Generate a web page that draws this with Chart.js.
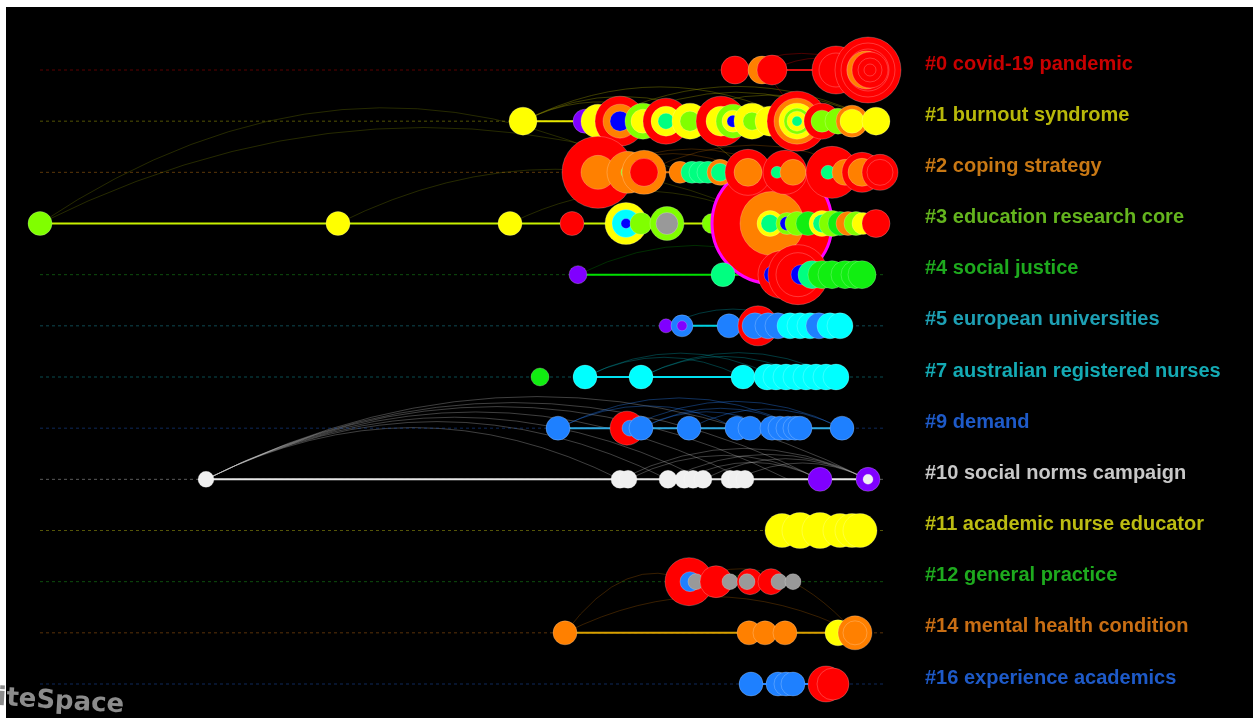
<!DOCTYPE html>
<html><head><meta charset="utf-8">
<script src="https://cdn.jsdelivr.net/npm/chart.js@4.4.0/dist/chart.umd.min.js"></script>
<style>html,body{margin:0;padding:0;background:#fff;overflow:hidden}</style>
</head><body>
<canvas id="c" width="1253" height="718"></canvas>
<script>
// ---------------- data ----------------
const clusterLabels = ['#0 covid-19 pandemic','#1 burnout syndrome','#2 coping strategy','#3 education research core','#4 social justice','#5 european universities','#7 australian registered nurses','#9 demand','#10 social norms campaign','#11 academic nurse educator','#12 general practice','#14 mental health condition','#16 experience academics'];
const labelColors = ['#c80000','#b8b80a','#c87814','#64b41e','#1eaa1e','#1ea0b4','#14aab4','#1e5ac8','#c8c8c8','#bcbc12','#1eaa1e','#c86e14','#1e5ac8'];
const lineColors  = ['#e01010','#e8e800','#e07000','#c8f000','#00e000','#00d0e0','#00e0f0','#30a8e0','#e6e6e6','#e8e800','#d02020','#d8a000','#1e80ff'];
const ringPalette = {R:'#ff0000',O:'#ff8000',Y:'#ffff00',L:'#80ff00',G:'#11ee11',S:'#00ff80',C:'#00ffff',B:'#1e80ff',N:'#0000ff',P:'#8000ff',W:'#f0f0f0',A:'#999999'};
const timeFrom = 1982.0, timeTo = 2024.15;

// nodes: [year, rings "ColourRadius ..."]
const nodes0 = [[2016.75,'R14'],[2018.1,'O14'],[2018.6,'R15'],[2021.8,'R24 R17'],[2023.4,'R33 R27 R21'],[2023.3,'O19'],[2023.5,'R18 R12 R6']];
const nodes1 = [[2006.15,'Y14'],[2009.25,'P12'],[2009.9,'Y17'],[2011.0,'R25 O17 N10'],[2012.15,'L18 Y12'],[2013.3,'R23 Y15 S8'],[2014.5,'Y18 L10'],[2016.05,'R25 Y15'],[2016.65,'L17 Y11 N6'],[2017.6,'Y18 L9'],[2018.5,'Y15'],[2019.85,'R30 O23 Y18 L13 Y10 S5'],[2021.1,'R18 L11'],[2021.9,'L13'],[2022.6,'O16 Y12'],[2023.8,'Y14']];
const nodes2 = [[2009.9,'R36 O17'],[2011.4,'O21 L7'],[2012.2,'O22 R14'],[2014.0,'O11'],[2014.6,'S11'],[2015.0,'S11'],[2015.4,'S11'],[2016.0,'O13 S9'],[2017.4,'R23 O14'],[2019.25,'R22'],[2018.85,'S6'],[2019.65,'O13'],[2021.6,'R26'],[2021.4,'S7'],[2022.25,'O13'],[2023.1,'R20 O14'],[2024.0,'R18 R13']];
const nodes3 = [[1982.0,'L12'],[1996.9,'Y12'],[2005.5,'Y12'],[2008.6,'R12'],[2011.3,'Y21 C14 N5'],[2012.05,'L11'],[2013.35,'L17 A11'],[2015.6,'L10'],[2018.6,'R60 O32'],[2018.5,'Y13 S9'],[2019.35,'L11 N7'],[2019.85,'L12'],[2020.4,'G12'],[2021.1,'Y13 S9'],[2021.6,'L13'],[2022.0,'G12'],[2022.4,'O12'],[2022.8,'L12'],[2023.15,'Y11'],[2023.8,'R14']];
const nodes4 = [[2008.9,'P9'],[2016.15,'S12'],[2019.1,'R24'],[2018.65,'N9'],[2019.9,'R30 R22'],[2020.05,'N10'],[2020.6,'S14'],[2021.1,'G14'],[2021.6,'G14'],[2022.4,'R13'],[2022.25,'G14'],[2022.75,'G14'],[2023.1,'G14']];
const nodes5 = [[2013.3,'P7'],[2014.1,'B11 P5'],[2016.45,'B12'],[2017.9,'R20'],[2017.75,'B13'],[2018.4,'B13'],[2018.9,'B13'],[2019.5,'C13'],[2020.0,'C13'],[2020.5,'C13'],[2020.95,'B13'],[2021.5,'C13'],[2022.0,'C13']];
const nodes7 = [[2007.0,'G9'],[2009.25,'C12'],[2012.05,'C12'],[2017.15,'C12'],[2018.35,'C13'],[2018.8,'C13'],[2019.3,'C13'],[2019.8,'C13'],[2020.3,'C13'],[2020.8,'C13'],[2021.3,'C13'],[2021.8,'C13']];
const nodes9 = [[2007.9,'B12'],[2011.35,'R17'],[2011.5,'B8'],[2012.05,'B12'],[2014.45,'B12'],[2016.85,'B12'],[2017.5,'B12'],[2018.6,'B12'],[2019.0,'B12'],[2019.4,'B12'],[2019.75,'B12'],[2020.0,'B12'],[2022.1,'B12']];
const nodes10 = [[1990.3,'W8'],[2011.0,'W9'],[2011.4,'W9'],[2013.4,'W9'],[2014.2,'W9'],[2014.65,'W9'],[2015.15,'W9'],[2016.5,'W9'],[2016.85,'W9'],[2017.25,'W9'],[2021.0,'P12'],[2023.4,'P12 W5']];
const nodes11 = [[2019.1,'Y17'],[2020.0,'Y18'],[2021.0,'Y18'],[2022.0,'Y17'],[2022.6,'Y17'],[2023.0,'Y17']];
const nodes12 = [[2014.45,'R24'],[2014.5,'B10'],[2014.8,'A8'],[2015.8,'R16'],[2016.5,'A8'],[2017.5,'R13'],[2017.35,'A8'],[2018.55,'R13'],[2018.95,'A8'],[2019.65,'A8']];
const nodes14 = [[2008.25,'O12'],[2017.45,'O12'],[2018.25,'O12'],[2019.25,'O12'],[2021.9,'Y13'],[2022.75,'O17 O12']];
const nodes16 = [[2017.55,'B12'],[2018.9,'B12'],[2019.3,'B12'],[2019.65,'B12'],[2021.3,'R18'],[2021.65,'R16']];
const clusterNodes = [nodes0,nodes1,nodes2,nodes3,nodes4,nodes5,nodes7,nodes9,nodes10,nodes11,nodes12,nodes14,nodes16];
const lineStartOverride = [null,null,null,null,null,null,2009.25,null,null,null,null,null,null];
const hubNodes = [[3,2018.6]];   // high-centrality node (purple ring)

// co-citation links: [rowA, yearA, rowB, yearB, colourCode]
const links = [
  [8,1990.3,8,2011.0,'W'],[8,1990.3,8,2013.4,'W'],[8,1990.3,8,2015.15,'W'],[8,1990.3,8,2017.25,'W'],[8,1990.3,8,2021.0,'W'],[8,1990.3,8,2023.4,'W'],[8,1990.3,8,2019.4,'W'],
  [8,2011.0,8,2023.4,'W'],[8,2013.4,8,2023.4,'W'],[8,2015.15,8,2023.4,'W'],[8,2016.85,8,2023.4,'W'],[8,2011.4,8,2021.0,'W'],[8,2014.2,8,2021.0,'W'],
  [7,2007.9,7,2016.85,'B'],[7,2007.9,7,2020.0,'B'],[7,2011.35,7,2022.1,'B'],[7,2012.05,7,2020.0,'B'],[7,2014.45,7,2022.1,'B'],[7,2012.05,7,2018.6,'B'],
  [6,2009.25,6,2018.8,'C'],[6,2012.05,6,2020.3,'C'],[6,2012.05,6,2021.8,'C'],[6,2009.25,6,2017.15,'C'],
  [1,2006.15,1,2016.05,'Y'],[1,2006.15,1,2019.85,'Y'],[1,2009.9,1,2023.8,'Y'],[1,2011.0,1,2022.6,'Y'],[1,2013.3,1,2023.8,'Y'],[1,2006.15,2,2017.4,'Y'],
  [0,2016.75,0,2023.4,'R'],[0,2018.6,0,2023.4,'R'],[0,2016.75,1,2019.85,'R'],
  [3,1982.0,3,2020.4,'L'],[3,1982.0,2,2012.2,'L'],[3,1996.9,3,2018.6,'L'],[3,2005.5,3,2018.5,'L'],
  [2,2009.9,2,2019.25,'O'],[2,2012.2,2,2023.1,'O'],[2,2009.9,2,2017.4,'O'],
  [11,2008.25,11,2022.75,'O'],[10,2014.45,11,2022.75,'O'],[11,2008.25,10,2014.45,'O'],
  [4,2008.9,4,2020.6,'G'],[5,2013.3,5,2020.0,'C'],[10,2015.8,10,2018.55,'G']
];
const linkColors = {W:'rgba(210,210,210,0.3)',B:'rgba(40,120,230,0.4)',C:'rgba(0,190,200,0.3)',Y:'rgba(150,150,0,0.4)',R:'rgba(170,0,0,0.45)',L:'rgba(110,120,0,0.35)',O:'rgba(160,90,0,0.35)',G:'rgba(0,130,0,0.35)'};

// ---------------- build ----------------
function alpha(hex, a){const n=parseInt(hex.slice(1),16);return `rgba(${n>>16},${(n>>8)&255},${n&255},${a})`;}
const datasets = [];
clusterNodes.forEach((ns, i) => {
  const xs = ns.map(n => n[0]);
  datasets.push({type:'line', data:[{x:timeFrom,y:i},{x:timeTo,y:i}], borderColor:alpha(labelColors[i],0.45), borderWidth:1, borderDash:[3,3], pointRadius:0, clip:false, order:100});
  const s = lineStartOverride[i] ?? Math.min(...xs);
  datasets.push({type:'line', data:[{x:s,y:i},{x:Math.max(...xs),y:i}], borderColor:lineColors[i], borderWidth:2, pointRadius:0, clip:false, order:60});
  const pts=[], bg=[], bc=[], bw=[];
  ns.forEach(n => {
    n[1].split(' ').forEach((tok, k) => {
      pts.push({x:n[0], y:i, r:+tok.slice(1)});
      bg.push(ringPalette[tok[0]]);
      const hub = k===0 && hubNodes.some(h => h[0]===i && h[1]===n[0]);
      bc.push(hub ? '#ff00ff' : 'rgba(255,255,255,0.28)');
      bw.push(hub ? 3 : 0.8);
    });
  });
  datasets.push({type:'bubble', data:pts, backgroundColor:bg, borderColor:bc, borderWidth:bw, clip:false, order: i===3 ? 40 : 30-i});
});

const bgPlugin = {id:'bg', beforeDraw(chart){
  const c = chart.ctx; c.save();
  c.fillStyle='#ffffff'; c.fillRect(0,0,chart.width,chart.height);
  c.fillStyle='#000000'; c.fillRect(6,7,chart.width-6,chart.height-7);
  c.restore();
}};
const linkPlugin = {id:'links', beforeDatasetsDraw(chart){
  const {ctx, scales:{x,y}} = chart; ctx.save(); ctx.lineWidth = 1;
  links.forEach(l => {
    const x1=x.getPixelForValue(l[1]), y1=y.getPixelForValue(l[0]);
    const x2=x.getPixelForValue(l[3]), y2=y.getPixelForValue(l[2]);
    const cy = Math.min(y1,y2) - 0.25*Math.abs(x2-x1);
    ctx.beginPath(); ctx.moveTo(x1,y1); ctx.quadraticCurveTo((x1+x2)/2, cy, x2, y2);
    ctx.strokeStyle = linkColors[l[4]]; ctx.stroke();
  });
  ctx.restore();
}};
const markPlugin = {id:'mark', afterDraw(chart){
  const c = chart.ctx; c.save();
  c.translate(0,705); c.rotate(0.06);
  c.font='bold 26px "DejaVu Sans", sans-serif'; c.fillStyle='#8c8c8c';
  c.fillText('iteSpace', -3, 0);
  c.restore();
}};

new Chart(document.getElementById('c'), {
  type:'bubble',
  data:{datasets},
  plugins:[bgPlugin, linkPlugin, markPlugin],
  options:{
    responsive:false, animation:false, events:[],
    layout:{autoPadding:false, padding:{top:70,bottom:34,left:0,right:0}},
    plugins:{legend:{display:false}, tooltip:{enabled:false}},
    scales:{
      x:{type:'linear', min:1980, max:2026, display:false},
      y:{type:'linear', position:'right', reverse:true, min:0, max:12,
         grid:{display:false, drawTicks:false}, border:{display:false},
         afterFit(scale){ scale.width = 333; },
         ticks:{stepSize:1, autoSkip:false, padding:5, labelOffset:-6,
           callback:(v)=>clusterLabels[v] ?? '',
           color:(ctx)=>labelColors[ctx.tick ? ctx.tick.value : ctx.index],
           font:{family:'"Liberation Sans", Arial, sans-serif', size:20, weight:'bold'}}}
    }
  }
});
</script>
</body></html>
